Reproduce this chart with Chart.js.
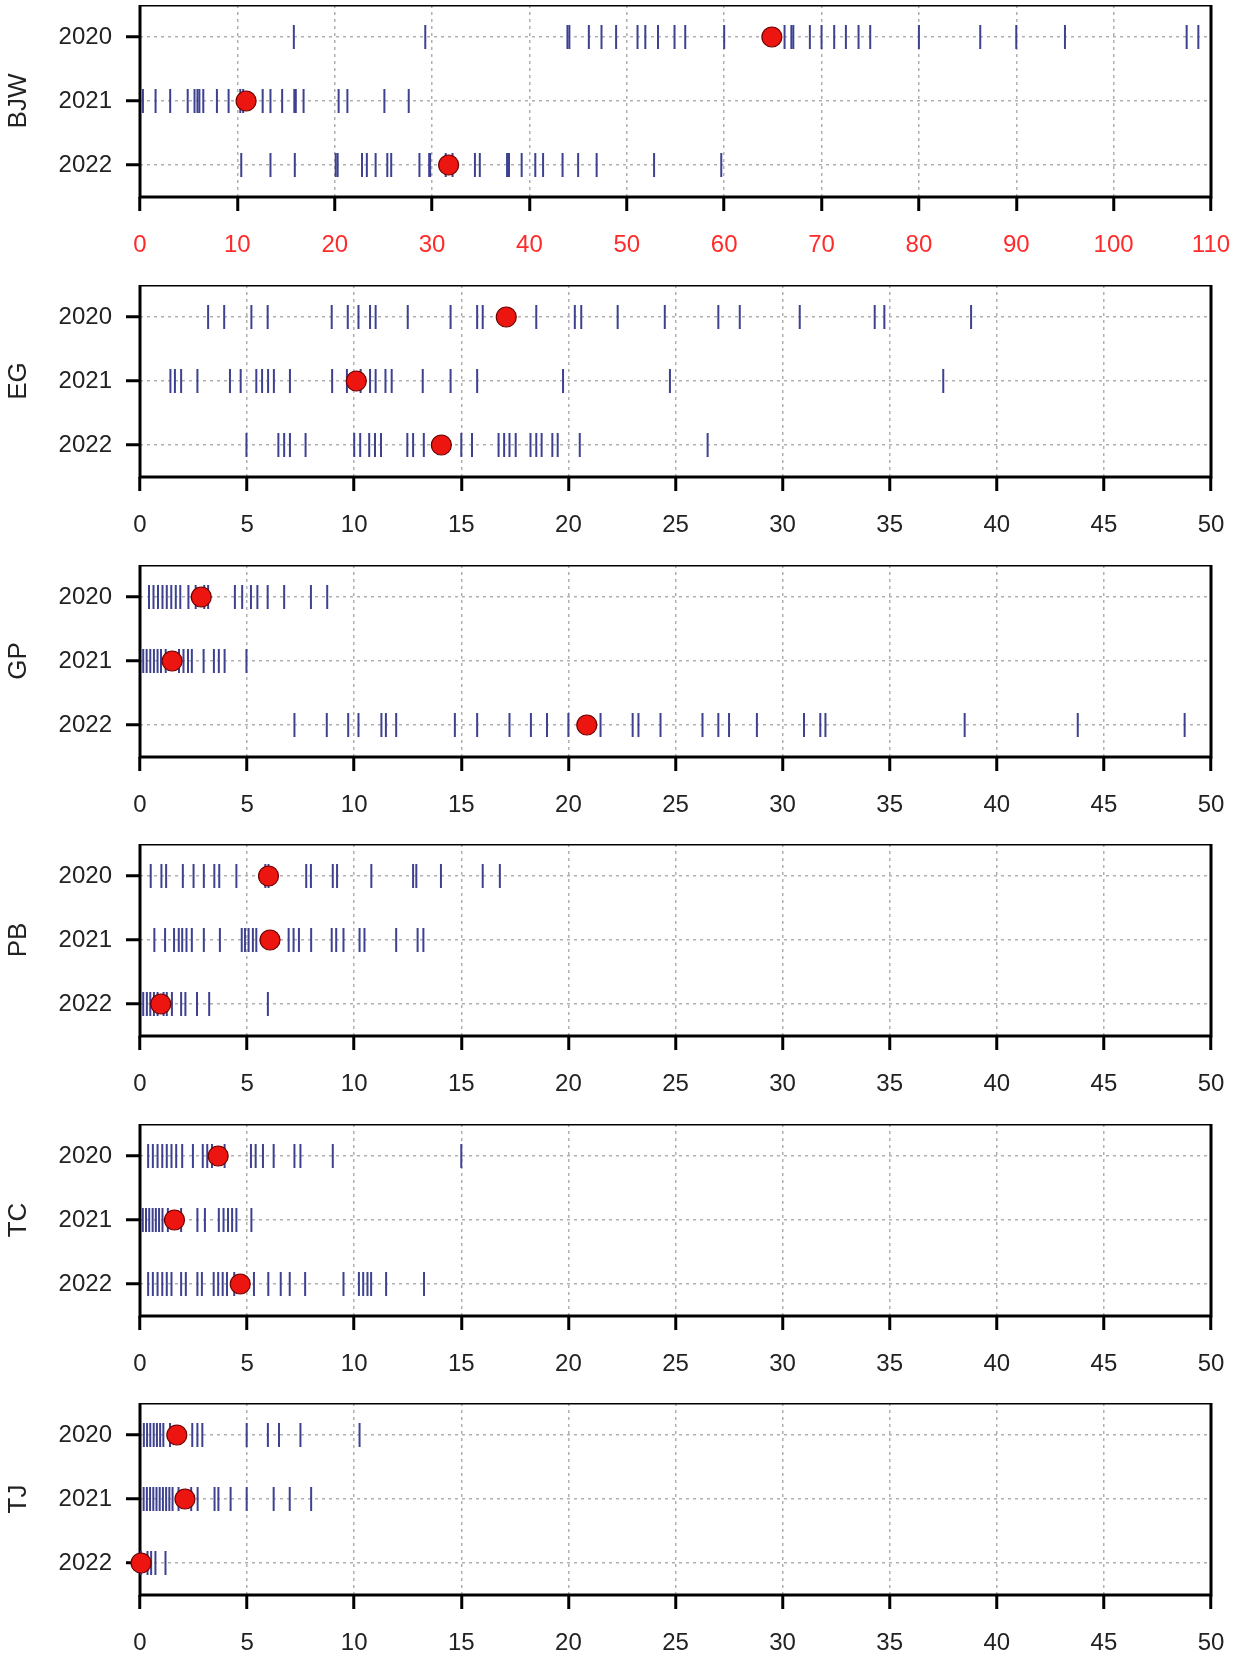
<!DOCTYPE html>
<html>
<head>
<meta charset="utf-8">
<script src="https://cdn.jsdelivr.net/npm/chart.js@4.4.1/dist/chart.umd.min.js"></script>
<style>
  body { margin: 0; background: #fff; }
  #wrap { position: relative; width: 1242px; height: 1654px; overflow: hidden; }
  .panel { position: absolute; left: 0; }
</style>
</head>
<body>
<div id="wrap"></div>
<script>
// sites, years and axis ranges
const groups = ['BJW', 'EG', 'GP', 'PB', 'TC', 'TJ'];
const years = ['2020', '2021', '2022'];
const xMax = [110, 50, 50, 50, 50, 50];
const xStep = [10, 5, 5, 5, 5, 5];

// individual observations per site and year
const bjw2020 = [15.8, 29.3, 43.9, 44.1, 46.1, 47.4, 48.9, 51.1, 51.9, 53.2, 54.9, 56.0, 60.0, 66.2, 66.9, 67.1, 68.8, 70.0, 71.3, 72.5, 73.8, 75.0, 80.0, 86.3, 90.0, 95.0, 107.5, 108.7];
const bjw2021 = [0.3, 1.6, 3.1, 4.9, 5.6, 5.9, 6.1, 6.5, 7.9, 9.1, 10.3, 10.6, 12.6, 13.4, 14.6, 15.85, 16.0, 16.8, 20.4, 21.3, 25.1, 27.6];
const bjw2022 = [10.4, 13.4, 15.9, 20.1, 20.3, 22.8, 23.3, 24.2, 25.4, 25.8, 28.7, 29.7, 29.8, 31.4, 32.1, 34.4, 34.9, 37.7, 37.9, 39.2, 40.6, 41.4, 43.4, 45.0, 46.9, 52.8, 59.7];

const eg2020 = [3.18, 3.93, 5.2, 5.96, 8.95, 9.7, 10.2, 10.74, 11.0, 12.5, 14.5, 15.74, 16.0, 18.5, 20.3, 20.6, 22.3, 24.5, 27.0, 28.0, 30.8, 34.3, 34.75, 38.8];
const eg2021 = [1.42, 1.63, 1.92, 2.68, 4.2, 4.7, 5.43, 5.7, 5.98, 6.25, 7.0, 8.97, 9.66, 10.3, 10.74, 11.0, 11.46, 11.75, 13.2, 14.5, 15.74, 19.75, 24.74, 37.5];
const eg2022 = [4.97, 6.46, 6.73, 7.0, 7.73, 10.0, 10.28, 10.7, 10.97, 11.25, 12.48, 12.75, 13.25, 15.0, 15.5, 16.74, 17.0, 17.25, 17.54, 18.23, 18.5, 18.75, 19.25, 19.5, 20.53, 26.5];

const gp2020 = [0.42, 0.63, 0.84, 1.05, 1.25, 1.46, 1.67, 1.88, 2.26, 2.6, 3.0, 3.18, 4.43, 4.77, 5.18, 5.48, 5.96, 6.73, 7.98, 8.74];
const gp2021 = [0.15, 0.31, 0.48, 0.65, 0.82, 0.98, 1.2, 1.82, 2.03, 2.24, 2.42, 2.97, 3.45, 3.68, 3.95, 4.97];
const gp2022 = [7.21, 8.72, 9.72, 10.2, 11.27, 11.48, 11.96, 14.7, 15.74, 17.25, 18.25, 19.0, 20.0, 21.5, 23.0, 23.27, 24.3, 26.26, 27.0, 27.5, 28.8, 31.0, 31.76, 32.0, 38.5, 43.78, 48.77];

const pb2020 = [0.5, 1.0, 1.22, 2.0, 2.5, 2.98, 3.47, 3.7, 4.5, 5.85, 6.0, 7.76, 7.98, 9.0, 9.2, 10.8, 12.75, 12.9, 14.05, 16.0, 16.8];
const pb2021 = [0.67, 1.17, 1.59, 1.81, 1.97, 2.17, 2.42, 2.98, 3.73, 4.75, 4.9, 5.07, 5.27, 5.43, 6.94, 7.17, 7.42, 7.99, 8.95, 9.16, 9.5, 10.25, 10.48, 11.96, 12.96, 13.23];
const pb2022 = [0.15, 0.32, 0.48, 0.65, 0.82, 1.1, 1.25, 1.49, 1.92, 2.12, 2.66, 3.23, 5.97];

const tc2020 = [0.38, 0.6, 0.82, 1.04, 1.25, 1.47, 1.69, 1.97, 2.47, 2.93, 3.14, 3.36, 3.95, 5.18, 5.4, 5.74, 6.24, 7.21, 7.49, 9.0, 15.0];
const tc2021 = [0.13, 0.28, 0.43, 0.59, 0.74, 0.89, 1.05, 1.3, 1.92, 2.68, 3.03, 3.68, 3.9, 4.11, 4.3, 4.5, 5.2];
const tc2022 = [0.38, 0.6, 0.82, 1.04, 1.25, 1.47, 1.92, 2.14, 2.68, 2.89, 3.44, 3.65, 3.86, 4.06, 4.4, 5.32, 5.99, 6.57, 6.99, 7.71, 9.5, 10.22, 10.42, 10.62, 10.79, 11.49, 13.26];

const tj2020 = [0.18, 0.33, 0.48, 0.64, 0.79, 0.94, 1.09, 1.4, 2.44, 2.68, 2.91, 4.98, 5.97, 6.49, 7.49, 10.25];
const tj2021 = [0.17, 0.32, 0.47, 0.62, 0.77, 0.92, 1.07, 1.22, 1.37, 1.52, 1.8, 2.39, 2.69, 3.48, 3.66, 4.23, 4.98, 6.24, 6.99, 7.99];
const tj2022 = [0.05, 0.35, 0.52, 0.72, 1.19];

// median per year (red dots)
const bjwMedian = [64.9, 10.9, 31.7];
const egMedian = [17.1, 10.1, 14.07];
const gpMedian = [2.86, 1.5, 20.86];
const pbMedian = [6.0, 6.07, 0.97];
const tcMedian = [3.65, 1.61, 4.68];
const tjMedian = [1.72, 2.1, 0.05];

const obsByGroup = [
  [bjw2020, bjw2021, bjw2022],
  [eg2020, eg2021, eg2022],
  [gp2020, gp2021, gp2022],
  [pb2020, pb2021, pb2022],
  [tc2020, tc2021, tc2022],
  [tj2020, tj2021, tj2022]
];
const mediansByGroup = [bjwMedian, egMedian, gpMedian, pbMedian, tcMedian, tjMedian];

Chart.defaults.font.family = '"Liberation Sans", Arial, Helvetica, sans-serif';

// heavy black frame round the plotting region
const boxFrame = {
  id: 'boxFrame',
  beforeDatasetsDraw(chart) {
    const { ctx, chartArea: a } = chart;
    ctx.save();
    ctx.strokeStyle = '#000';
    ctx.lineWidth = 3;
    ctx.strokeRect(a.left, a.top, a.right - a.left, a.bottom - a.top);
    ctx.restore();
  }
};

const wrap = document.getElementById('wrap');
const panelStep = 279.6;
const plotTop = 5.3;
const plotH = 192;
const axisH = 83;

// keep label overhang from pushing the plot area around
const noPad = s => {
  s.paddingTop = 0;
  s.paddingBottom = 0;
  s.paddingLeft = 0;
  s.paddingRight = 0;
};

groups.forEach((name, k) => {
  const canvas = document.createElement('canvas');
  canvas.width = 1242;
  canvas.height = plotH + axisH;
  canvas.className = 'panel';
  canvas.style.top = Math.round(plotTop + k * panelStep) + 'px';
  wrap.appendChild(canvas);

  const tickSets = obsByGroup[k].map((vals, row) => ({
    data: vals.map(v => ({ x: v, y: row })),
    pointStyle: 'line',
    rotation: 90,
    radius: 12,
    hoverRadius: 12,
    borderWidth: 2,
    borderColor: '#3d4190',
    order: 1,
    clip: false
  }));

  const medianSet = {
    data: mediansByGroup[k].map((v, row) => ({ x: v, y: row })),
    pointStyle: 'circle',
    radius: 10,
    hoverRadius: 10,
    backgroundColor: '#ec1510',
    borderColor: '#6e0000',
    borderWidth: 1.2,
    order: 0,
    clip: false
  };

  const step = xStep[k];
  new Chart(canvas, {
    type: 'scatter',
    data: { datasets: [...tickSets, medianSet] },
    options: {
      responsive: false,
      animation: false,
      events: [],
      layout: { autoPadding: false, padding: { left: 0, right: 31, top: 0, bottom: 0 } },
      plugins: { legend: { display: false }, tooltip: { enabled: false } },
      scales: {
        x: {
          type: 'linear',
          min: 0,
          max: xMax[k],
          afterBuildTicks: s => {
            const t = [];
            for (let v = 0; v <= xMax[k]; v += step) t.push({ value: v });
            s.ticks = t;
          },
          afterFit: s => {
            s.height = axisH;
            noPad(s);
          },
          ticks: {
            autoSkip: false,
            maxRotation: 0,
            color: k === 0 ? '#ff2b2b' : '#222',
            font: { size: 24 },
            padding: 20
          },
          grid: {
            color: '#b0b0b0',
            lineWidth: 1.5,
            tickColor: '#000',
            tickWidth: 3,
            tickLength: 14,
            tickBorderDash: []
          },
          border: { display: false, dash: [3, 4] }
        },
        y: {
          type: 'linear',
          reverse: true,
          min: -0.5,
          max: 2.5,
          afterBuildTicks: s => { s.ticks = years.map((_, i) => ({ value: i })); },
          afterFit: s => {
            s.width = 140;
            noPad(s);
          },
          ticks: {
            callback: v => years[v],
            color: '#222',
            font: { size: 24 },
            padding: 14
          },
          grid: {
            color: '#b0b0b0',
            lineWidth: 1.5,
            tickColor: '#000',
            tickWidth: 3,
            tickLength: 14,
            tickBorderDash: []
          },
          border: { display: false, dash: [3, 4] },
          title: {
            display: true,
            text: name,
            color: '#222',
            font: { size: 26 },
            padding: { top: 3, bottom: 0 }
          }
        }
      }
    },
    plugins: [boxFrame]
  });
});
</script>
</body>
</html>
